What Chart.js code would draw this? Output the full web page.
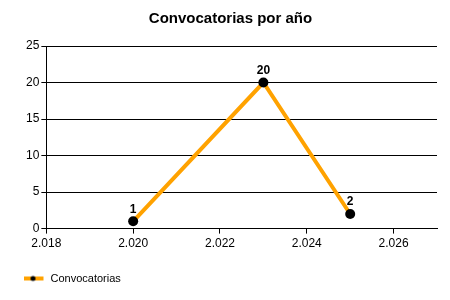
<!DOCTYPE html>
<html>
<head>
<meta charset="utf-8">
<script src="https://cdn.jsdelivr.net/npm/chart.js@4"></script>
<style>
    html, body { margin: 0; padding: 0; background: #fff; }
    #wrap { width: 450px; height: 300px; }
</style>
</head>
<body>
<div id="wrap"><canvas id="statChart" width="450" height="300"></canvas></div>
<script>
// Datos
const years = [2020, 2023, 2025];
const convocatorias = [1, 20, 2];
const xTicks = [2018, 2020, 2022, 2024, 2026];
const yTicks = [0, 5, 10, 15, 20, 25];

const lineColor = '#FFA200';
const fontFamily = "'Liberation Sans', Arial, sans-serif";

function formatYear(v) {
    // 2018 -> "2.018"
    return Math.floor(v / 1000) + '.' + String(v % 1000).padStart(3, '0');
}

// legend symbol: line with a dot in the middle (right part left empty to keep a gap before the text)
function legendSymbol() {
    const c = document.createElement('canvas');
    c.width = 34; c.height = 8;
    const g = c.getContext('2d');
    g.strokeStyle = lineColor;
    g.lineWidth = 4;
    g.beginPath(); g.moveTo(0, 4); g.lineTo(21, 4); g.stroke();
    g.fillStyle = '#000';
    g.beginPath(); g.arc(10.5, 4, 2.5, 0, Math.PI * 2); g.fill();
    return c;
}

const valueLabels = {
    id: 'valueLabels',
    afterDatasetsDraw(chart) {
        const ctx = chart.ctx;
        const meta = chart.getDatasetMeta(0);
        ctx.save();
        ctx.font = 'bold 12px ' + fontFamily;
        ctx.fillStyle = '#000';
        ctx.textAlign = 'center';
        ctx.textBaseline = 'bottom';
        meta.data.forEach((pt, i) => {
            ctx.fillText(String(convocatorias[i]), pt.x, pt.y - 6);
        });
        ctx.restore();
    }
};

const symbol = legendSymbol();

new Chart(document.getElementById('statChart'), {
    type: 'line',
    data: {
        datasets: [{
            label: 'Convocatorias',
            data: years.map((y, i) => ({ x: y, y: convocatorias[i] })),
            borderColor: lineColor,
            borderWidth: 4,
            pointRadius: 5,
            pointHoverRadius: 5,
            pointBackgroundColor: '#000',
            pointBorderWidth: 0,
            tension: 0,
            fill: false
        }]
    },
    options: {
        responsive: false,
        animation: false,
        layout: { padding: { left: 24, right: 13, top: 0, bottom: 6 } },
        plugins: {
            title: {
                display: true,
                text: 'Convocatorias por año',
                color: '#000',
                font: { family: fontFamily, size: 15, weight: 'bold' },
                padding: { top: 10, bottom: 18 }
            },
            legend: {
                position: 'bottom',
                align: 'start',
                labels: {
                    usePointStyle: true,
                    generateLabels: () => [{
                        text: 'Convocatorias',
                        pointStyle: symbol,
                        fontColor: '#000',
                        lineWidth: 0,
                        datasetIndex: 0
                    }],
                    color: '#000',
                    font: { family: fontFamily, size: 11 },
                    padding: 10
                }
            },
            tooltip: { enabled: false }
        },
        scales: {
            x: {
                type: 'linear',
                min: 2018,
                max: 2027,
                afterBuildTicks: (scale) => { scale.ticks = xTicks.map(v => ({ value: v })); },
                afterFit: (scale) => { scale.height += 9; },
                ticks: {
                    color: '#000',
                    font: { family: fontFamily, size: 12 },
                    padding: 3,
                    callback: (v) => formatYear(v)
                },
                grid: { drawOnChartArea: false, drawTicks: true, tickLength: 5, color: '#000' },
                border: { display: true, color: '#000', width: 1 }
            },
            y: {
                min: 0,
                max: 25,
                afterBuildTicks: (scale) => { scale.ticks = yTicks.map(v => ({ value: v })); },
                ticks: {
                    color: '#000',
                    font: { family: fontFamily, size: 12 },
                    padding: 2
                },
                grid: { color: '#000', lineWidth: 1, tickLength: 5 },
                border: { display: true, color: '#000', width: 1 }
            }
        }
    },
    plugins: [valueLabels]
});
</script>
</body>
</html>
